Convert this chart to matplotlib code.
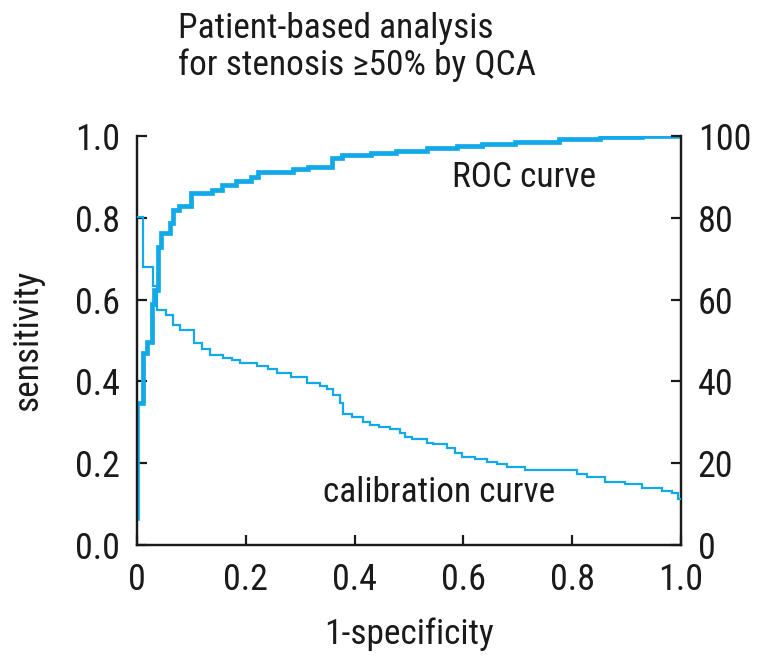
import matplotlib
matplotlib.use("Agg")
import matplotlib.pyplot as plt
from matplotlib import font_manager as fm

names = {f.name for f in fm.fontManager.ttflist}
fam = None
for cand in ["Liberation Sans Narrow", "Roboto Condensed", "Open Sans Condensed"]:
    if cand in names:
        fam = cand
        break
if fam is None:
    fam = "Liberation Sans"
plt.rcParams['font.family'] = [fam, 'DejaVu Sans']

# ROC curve (1-specificity, sensitivity), step points
roc_x = [0, 0, 0.0104, 0.018, 0.027, 0.031, 0.039, 0.045, 0.061, 0.067, 0.078, 0.10,
         0.137, 0.156, 0.182, 0.209, 0.223, 0.287, 0.315, 0.358, 0.376, 0.431, 0.477,
         0.533, 0.588, 0.634, 0.695, 0.775, 0.851, 0.928, 1.0]
roc_y = [0.066, 0.347, 0.47, 0.497, 0.59, 0.623, 0.729, 0.762, 0.787, 0.819, 0.829, 0.861,
         0.868, 0.88, 0.891, 0.90, 0.912, 0.919, 0.925, 0.945, 0.953, 0.959, 0.964,
         0.970, 0.976, 0.981, 0.986, 0.992, 0.997, 1.0, 1.0]

# Calibration curve (right axis, 0-100)
cal_x = [0, 0.0104, 0.029, 0.037, 0.053, 0.066, 0.079, 0.105, 0.119, 0.134, 0.159, 0.174,
         0.189, 0.220, 0.241, 0.257, 0.284, 0.312, 0.336, 0.349, 0.361, 0.373, 0.379, 0.395,
         0.416, 0.428, 0.444, 0.465, 0.483, 0.493, 0.505, 0.533, 0.545, 0.569, 0.585, 0.597,
         0.621, 0.643, 0.661, 0.680, 0.713, 0.808, 0.827, 0.860, 0.897, 0.928, 0.965, 0.983,
         0.995, 1.0]
cal_y = [80.3, 68.0, 63.3, 57.5, 56.2, 53.8, 52.6, 49.4, 47.9, 46.4, 45.6, 45.2,
         44.6, 43.7, 43.0, 42.0, 41.0, 39.5, 38.9, 38.1, 36.7, 34.6, 32.0, 31.2,
         30.0, 29.3, 28.8, 28.3, 27.3, 26.5, 25.8, 25.0, 24.6, 23.8, 22.4, 21.6,
         21.0, 20.4, 19.8, 19.1, 18.3, 17.4, 16.6, 15.5, 14.8, 14.0, 13.3, 12.6,
         11.2, 11.2]

x_ticks = [0, 0.2, 0.4, 0.6, 0.8, 1.0]
x_tick_labels = ["0", "0.2", "0.4", "0.6", "0.8", "1.0"]
y_ticks = [0, 0.2, 0.4, 0.6, 0.8, 1.0]
y_tick_labels = ["0.0", "0.2", "0.4", "0.6", "0.8", "1.0"]
y2_ticks = [0, 20, 40, 60, 80, 100]
y2_tick_labels = ["0", "20", "40", "60", "80", "100"]

color = "#12a9e8"
fs = 26
lfs = 25.5

fig = plt.figure(figsize=(7.62, 6.62), dpi=100)
ax = fig.add_axes([137/762, 1-545/662, (681-137)/762, (545-136)/662])
ax2 = ax.twinx()

ax.plot(roc_x, roc_y, drawstyle='steps-post', color=color, lw=3.4, solid_joinstyle='miter', zorder=3)
ax2.plot(cal_x, cal_y, drawstyle='steps-post', color=color, lw=1.6, solid_joinstyle='miter', zorder=3)

ax.set_xlim(0, 1.0)
ax.set_ylim(0, 1.0)
ax2.set_ylim(0, 100)

for a in (ax, ax2):
    a.spines['top'].set_visible(False)
    for s in ('left', 'right', 'bottom'):
        a.spines[s].set_linewidth(1.6)
        a.spines[s].set_color('#1a1a1a')

ax.set_xticks(x_ticks)
ax.set_xticklabels(x_tick_labels)
ax.set_yticks(y_ticks)
ax.set_yticklabels(y_tick_labels)
ax2.set_yticks(y2_ticks)
ax2.set_yticklabels(y2_tick_labels)

ax.tick_params(axis='both', direction='in', length=7, width=1.6, labelsize=fs,
               colors='#1a1a1a', pad=12)
ax2.tick_params(axis='y', direction='in', length=7, width=1.6, labelsize=fs,
                colors='#1a1a1a', pad=12)

ax.set_xlabel("1-specificity", fontsize=lfs, color='#1a1a1a', labelpad=14)
ax.set_ylabel("sensitivity", fontsize=lfs, color='#1a1a1a', labelpad=22)

ax.text(0.579, 0.875, "ROC curve", fontsize=lfs, color='#1a1a1a', ha='left', va='baseline')
ax.text(0.342, 0.106, "calibration curve", fontsize=lfs, color='#1a1a1a', ha='left', va='baseline')

fig.text(178/762, 1-38/662, "Patient-based analysis", fontsize=lfs, color='#1a1a1a',
         ha='left', va='baseline')
fig.text(178/762, 1-75/662, "for stenosis \u226550% by QCA", fontsize=lfs, color='#1a1a1a',
         ha='left', va='baseline')

fig.savefig("out.png", dpi=100)
